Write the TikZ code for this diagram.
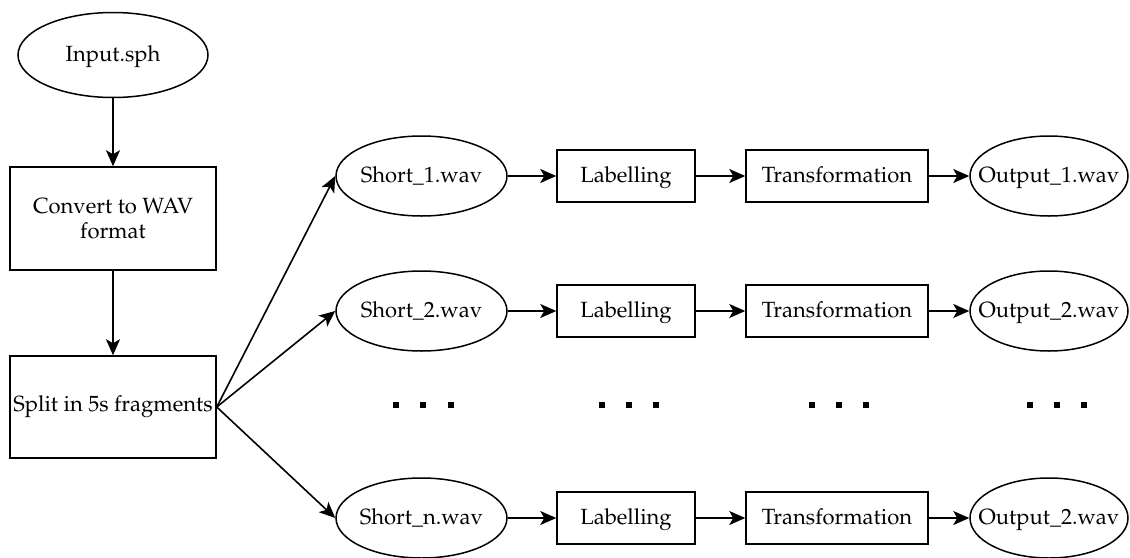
\documentclass[tikz,border=0pt]{standalone}
\usepackage[T1]{fontenc}
\usepackage{mathpazo}
\usetikzlibrary{shapes.geometric,arrows.meta}
\begin{document}
\begin{tikzpicture}[x=1pt,y=-1pt,
  every node/.style={line width=1.5pt, inner sep=0pt},
  txt/.style={font=\fontsize{22}{25}\selectfont, text height=16pt, text depth=3pt},
  oval/.style={draw, ellipse, minimum width=171pt, minimum height=80pt,
               label={[txt]center:#1}},
  stepbox/.style={draw, rectangle, txt, minimum height=52pt},
  bigbox/.style={draw, rectangle, font=\fontsize{22}{25}\selectfont,
                 minimum width=206pt, minimum height=103pt, align=center},
  flow/.style={line width=1.6pt, -{Stealth[length=16pt,width=14pt,inset=4pt]}},
  dot/.style={fill=black, minimum size=6.5pt, rectangle, draw=none}]
\useasboundingbox (0,0) rectangle (1130,557);

% left column
\node[oval=Input.sph, minimum width=190pt, minimum height=85pt] (in) at (113,55) {};
\node[bigbox] (conv) at (113,218.5) {Convert to WAV\\format};
\node[bigbox, minimum height=102pt] (split) at (113,407) {Split in 5s fragments};
\draw[flow] (in) -- (conv);
\draw[flow] (conv) -- (split);

% processing rows
\foreach \r/\y/\s/\o in {1/176/1/1, 2/311/2/2, 3/518/n/2}{
  \node[oval={Short\_\s.wav}] (short\r) at (421.5,\y) {};
  \node[stepbox, minimum width=138pt] (lab\r) at (626,\y) {Labelling};
  \node[stepbox, minimum width=182pt] (trans\r) at (837,\y) {Transformation};
  \node[oval={Output\_\o.wav}, minimum width=158pt] (out\r) at (1049,\y) {};
  \draw[flow] (split.east) -- (short\r.west);
  \draw[flow] (short\r) -- (lab\r);
  \draw[flow] (lab\r) -- (trans\r);
  \draw[flow] (trans\r) -- (out\r);
}

% ellipsis marks between rows
\foreach \x in {396,423,451, 602,629,656, 812,839,866, 1030,1057,1084}
  \node[dot] (d\x) at (\x,405) {};
\end{tikzpicture}
\end{document}
